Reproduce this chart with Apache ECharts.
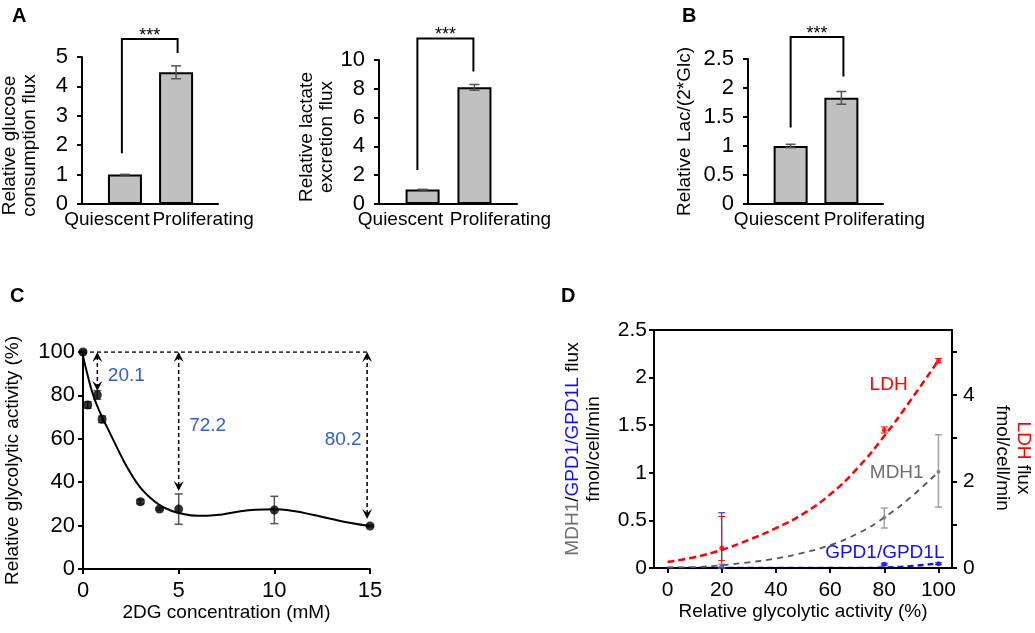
<!DOCTYPE html>
<html><head><meta charset="utf-8">
<script src="https://cdn.jsdelivr.net/npm/echarts@6/dist/echarts.min.js"></script>
<style>html,body{margin:0;padding:0;background:#fff}#c{width:1035px;height:633px}</style>
</head><body><div id="c"></div>
<script>
// ---------- Panel A / B : bar charts ----------
const barCategories = ['Quiescent', 'Proliferating'];
const glucoseFlux = [1.0, 4.48];
const glucoseErr = [0.01, 0.22];
const lactateFlux = [1.0, 8.1];
const lactateErr = [0.02, 0.2];
const lacGlcRatio = [1.0, 1.83];
const lacGlcErr = [0.03, 0.11];
const sigLabel = '***';
// significance brackets: [leftX, rightX, leftBottom, rightBottom, top]
const glucoseBracket = [-0.06, 1.03, 1.73, 5.14, 5.61];
const lactateBracket = [-0.1, 0.98, 2.36, 9.2, 11.5];
const ratioBracket = [0.0, 1.04, 1.32, 2.2, 2.88];

// ---------- Panel C : 2DG titration ----------
const dgConc = [0, 0.25, 0.75, 1, 3, 4, 5, 10, 15];
const dgActivity = [100, 75.6, 80.2, 69, 31, 27.6, 27.6, 27.2, 19.8];
const dgErr = [0.8, 1.5, 2, 1.5, 1, 0.6, 7, 6.3, 0.4];
const fitConc = [0, 0.25, 0.5, 0.75, 1, 1.5, 2, 2.5, 3, 3.5, 4, 4.5, 5, 6, 7, 8, 9, 10, 11, 12, 13, 14, 15];
const fitActivity = [98, 89, 81, 75, 70, 61, 52, 44, 37.5, 33, 29.5, 27.3, 25.8, 24.5, 24.9, 26.3, 27.3, 27.5, 26.7, 25, 23, 21.2, 19.8];
const dropConc = [0.75, 5, 14.85];
const dropTip = [82, 36, 23];
const dropLabels = ['20.1', '72.2', '80.2'];
const refLevel = 100;

// ---------- Panel D : fluxes vs glycolytic activity ----------
const activityPts = [20, 80, 100];
const ldhFlux = [0.46, 3.19, 4.79];
const ldhLow = [0.17, 3.12, 4.74];
const ldhHigh = [1.19, 3.26, 4.84];
const mdhFlux = [0.02, 0.53, 1.01];
const mdhLow = [0.0, 0.42, 0.64];
const mdhHigh = [0.04, 0.63, 1.40];
const gpdFlux = [0.01, 0.04, 0.045];
const gpdLow = [0.0, 0.03, 0.035];
const gpdHigh = [0.58, 0.05, 0.055];
const fitAct = [0, 10, 20, 30, 40, 50, 60, 70, 80, 90, 100];
const ldhFit = [0.14, 0.25, 0.42, 0.65, 0.92, 1.25, 1.7, 2.3, 3.05, 3.9, 4.8];
const mdhFit = [0.005, 0.01, 0.03, 0.06, 0.1, 0.16, 0.24, 0.36, 0.53, 0.75, 1.01];
const gpdFit = [0, 0, 0, 0, 0, 0, 0, 0, 0.005, 0.02, 0.05];
const xTicksD = [0, 20, 40, 60, 80, 100];
const rightTicksD = [0, 1, 2, 3, 4, 5];
const rightLabelsD = [0, 2, 4];
const curveLabels = [
  { text: 'LDH', x: 81.6, y: 4.23, axis: 'right', color: '#ff0000' },
  { text: 'MDH1', x: 84.6, y: 1.0, axis: 'left', color: '#6e6e6e' },
  { text: 'GPD1/GPD1L', x: 80.2, y: 0.16, axis: 'left', color: '#1010ff' }
];

// ---------- helpers ----------
const FF = '"Liberation Sans", Arial, sans-serif';
const BLUE_C = '#2f5fce';
const axisLineS = { show: true, onZero: false, lineStyle: { color: '#000', width: 2 } };
const tickS = { show: true, length: 5, lineStyle: { color: '#000', width: 2 } };
const lblS = (m, fs) => ({ color: '#000', fontSize: fs || 22, fontFamily: FF, margin: m });

function errRender(cap, color, width) {
  return function (params, api) {
    const x = api.value(0), lo = api.value(1), hi = api.value(2);
    const p1 = api.coord([x, lo]), p2 = api.coord([x, hi]);
    const h = cap / 2;
    const st = { stroke: color, lineWidth: width };
    return { type: 'group', children: [
      { type: 'line', shape: { x1: p1[0], y1: p1[1], x2: p2[0], y2: p2[1] }, style: st },
      { type: 'line', shape: { x1: p1[0] - h, y1: p1[1], x2: p1[0] + h, y2: p1[1] }, style: st },
      { type: 'line', shape: { x1: p2[0] - h, y1: p2[1], x2: p2[0] + h, y2: p2[1] }, style: st }
    ] };
  };
}
function bracketRender(params, api) {
  const a = api.coord([api.value(0), api.value(2)]);
  const b = api.coord([api.value(0), api.value(4)]);
  const c = api.coord([api.value(1), api.value(4)]);
  const d = api.coord([api.value(1), api.value(3)]);
  return { type: 'group', children: [
    { type: 'polyline', shape: { points: [a, b, c, d] }, style: { stroke: '#000', lineWidth: 2, fill: 'none' } },
    { type: 'text', x: (b[0] + c[0]) / 2, y: b[1] + 6,
      style: { text: sigLabel, align: 'center', verticalAlign: 'bottom', font: '18px ' + FF, fill: '#000' } }
  ] };
}
function catAxis(grid, shiftQ, shiftP, min, max) {
  return {
    type: 'value', gridIndex: grid, min: min, max: max,
    axisLine: axisLineS, axisTick: { show: false }, splitLine: { show: false },
    axisLabel: {
      customValues: [0, 1], margin: 6, fontFamily: FF, fontSize: 19, color: '#000',
      formatter: (v) => (Math.round(v) === 0 ? '{q|' + barCategories[0] + '}' : '{p|' + barCategories[1] + '}'),
      rich: {
        q: { fontSize: 19, fontFamily: FF, color: '#000', padding: [0, 2 * shiftQ, 0, 0] },
        p: { fontSize: 19, fontFamily: FF, color: '#000', padding: [0, 0, 0, 2 * shiftP] }
      }
    }
  };
}
function valAxis(grid, max, interval, name, gap, pad) {
  return {
    type: 'value', gridIndex: grid, min: 0, max: max, interval: interval,
    axisLine: axisLineS, axisTick: tickS, splitLine: { show: false },
    axisLabel: lblS(14),
    name: name, nameLocation: 'middle', nameGap: gap,
    nameTextStyle: { color: '#000', fontSize: 19, fontFamily: FF, lineHeight: 20, padding: pad || 0 }
  };
}
function barSeries(xi, vals) {
  return {
    type: 'bar', xAxisIndex: xi, yAxisIndex: xi, barWidth: 34,
    data: vals.map((v, i) => [i, v]),
    itemStyle: { color: '#c0c0c0', borderColor: '#000', borderWidth: 2 },
    silent: true, animation: false
  };
}
function barErr(xi, vals, errs) {
  return {
    type: 'custom', xAxisIndex: xi, yAxisIndex: xi, clip: false, z: 5,
    renderItem: errRender(10, '#555', 1.5),
    data: vals.map((v, i) => [i, v - errs[i], v + errs[i]])
  };
}
function bracket(xi, br) {
  return { type: 'custom', xAxisIndex: xi, yAxisIndex: xi, clip: false, renderItem: bracketRender, data: [br] };
}

const chart = echarts.init(document.getElementById('c'), null, { renderer: 'canvas' });
const BXMIN = -0.84, BXMAX = 1.82;

const option = {
  animation: false,
  backgroundColor: '#fff',
  textStyle: { fontFamily: FF },
  title: [
    { text: 'A', left: 7, top: 1, textStyle: { fontSize: 20, fontWeight: 'bold', color: '#000', fontFamily: FF } },
    { text: 'B', left: 677, top: 1, textStyle: { fontSize: 20, fontWeight: 'bold', color: '#000', fontFamily: FF } },
    { text: 'C', left: 5, top: 281, textStyle: { fontSize: 20, fontWeight: 'bold', color: '#000', fontFamily: FF } },
    { text: 'D', left: 556, top: 281, textStyle: { fontSize: 20, fontWeight: 'bold', color: '#000', fontFamily: FF } }
  ],
  grid: [
    { left: 82, top: 57, width: 136, height: 147, outerBoundsMode: 'none', containLabel: false },
    { left: 379, top: 60, width: 138, height: 144, outerBoundsMode: 'none', containLabel: false },
    { left: 748, top: 59, width: 135, height: 145, outerBoundsMode: 'none', containLabel: false },
    { left: 83, top: 352, width: 287, height: 217, outerBoundsMode: 'none', containLabel: false },
    { left: 654, top: 330, width: 298, height: 238, outerBoundsMode: 'none', containLabel: false }
  ],
  xAxis: [
    catAxis(0, 18, 27, BXMIN, BXMAX),
    catAxis(1, 22, 26, BXMIN, BXMAX),
    catAxis(2, 14, 33, BXMIN, BXMAX),
    {
      type: 'value', gridIndex: 3, min: 0, max: 15, interval: 5,
      axisLine: axisLineS, axisTick: tickS, splitLine: { show: false }, axisLabel: lblS(11),
      name: '2DG concentration (mM)', nameLocation: 'middle', nameGap: 33,
      nameTextStyle: { color: '#000', fontSize: 19, fontFamily: FF }
    },
    {
      type: 'value', gridIndex: 4, min: -5, max: 105,
      axisLine: axisLineS, axisTick: Object.assign({ customValues: xTicksD }, tickS),
      splitLine: { show: false }, axisLabel: Object.assign({ customValues: xTicksD }, lblS(12, 21)),
      name: 'Relative glycolytic activity (%)', nameLocation: 'middle', nameGap: 33,
      nameTextStyle: { color: '#000', fontSize: 19, fontFamily: FF }
    },
    {
      type: 'value', gridIndex: 4, position: 'top', min: -5, max: 105,
      axisLine: axisLineS, axisTick: { show: false }, axisLabel: { show: false }, splitLine: { show: false }
    }
  ],
  yAxis: [
    valAxis(0, 5, 1, 'Relative glucose\nconsumption flux', 42, [0, 30, 0, 0]),
    valAxis(1, 10, 2, 'Relative lactate\nexcretion flux', 38, [0, 10, 0, 0]),
    valAxis(2, 2.5, 0.5, 'Relative Lac/(2*Glc)', 53, 0),
    Object.assign(valAxis(3, 100, 20, 'Relative glycolytic activity (%)', 60, 0), { axisLabel: lblS(8) }),
    {
      type: 'value', gridIndex: 4, min: 0, max: 2.5, interval: 0.5,
      axisLine: axisLineS, axisTick: tickS, splitLine: { show: false }, axisLabel: lblS(7, 21),
      name: '{g|MDH1}{k|/}{b|GPD1/GPD1L}{k| flux}\n{k|fmol/cell/min}', nameLocation: 'middle', nameGap: 50,
      nameTextStyle: {
        fontSize: 19, fontFamily: FF, lineHeight: 21, padding: [0, 0, 0, 0],
        rich: {
          g: { color: '#6e6e6e', fontSize: 19, fontFamily: FF, lineHeight: 21 },
          k: { color: '#000', fontSize: 19, fontFamily: FF, lineHeight: 21 },
          b: { color: '#1010ff', fontSize: 19, fontFamily: FF, lineHeight: 21 }
        }
      }
    },
    {
      type: 'value', gridIndex: 4, position: 'right', min: 0, max: 5.5,
      axisLine: axisLineS, axisTick: Object.assign({ customValues: rightTicksD }, tickS),
      splitLine: { show: false }, axisLabel: Object.assign({ customValues: rightLabelsD }, lblS(11, 21)),
      name: '{r|LDH}{k| flux}\n{k|fmol/cell/min}', nameLocation: 'middle', nameGap: 40, nameRotate: -90,
      nameTextStyle: {
        fontSize: 19, fontFamily: FF, lineHeight: 21, padding: [0, 0, 0, 18],
        rich: {
          r: { color: '#ff0000', fontSize: 19, fontFamily: FF, lineHeight: 21 },
          k: { color: '#000', fontSize: 19, fontFamily: FF, lineHeight: 21 }
        }
      }
    }
  ],
  series: [
    // A1
    barSeries(0, glucoseFlux), barErr(0, glucoseFlux, glucoseErr), bracket(0, glucoseBracket),
    // A2
    barSeries(1, lactateFlux), barErr(1, lactateFlux, lactateErr), bracket(1, lactateBracket),
    // B
    barSeries(2, lacGlcRatio), barErr(2, lacGlcRatio, lacGlcErr), bracket(2, ratioBracket),
    // C reference line
    {
      type: 'line', xAxisIndex: 3, yAxisIndex: 3, symbol: 'none', silent: true,
      data: [[0, refLevel], [15, refLevel]],
      lineStyle: { color: '#000', width: 1.5, type: [4, 3] }
    },
    // C fit
    {
      type: 'line', xAxisIndex: 3, yAxisIndex: 3, symbol: 'none', smooth: 0.5, silent: true,
      data: fitConc.map((x, i) => [x, fitActivity[i]]),
      lineStyle: { color: '#000', width: 2 }
    },
    // C error bars
    {
      type: 'custom', xAxisIndex: 3, yAxisIndex: 3, clip: false, z: 3,
      renderItem: errRender(8, '#555', 1.5),
      data: dgConc.map((x, i) => [x, dgActivity[i] - dgErr[i], dgActivity[i] + dgErr[i]])
    },
    // C points
    {
      type: 'scatter', xAxisIndex: 3, yAxisIndex: 3, symbol: 'circle', symbolSize: 9, z: 4,
      itemStyle: { color: '#000' }, data: dgConc.map((x, i) => [x, dgActivity[i]])
    },
    // C drop arrows
    {
      type: 'custom', xAxisIndex: 3, yAxisIndex: 3, clip: false, z: 5,
      data: dropConc.map((x, i) => [x, dropTip[i]]),
      renderItem: function (params, api) {
        const x = api.value(0), tip = api.value(1);
        const t = api.coord([x, refLevel]), b = api.coord([x, tip]);
        const ah = 10, aw = 5;
        const idx = params.dataIndex;
        const left = idx === dropConc.length - 1;
        return { type: 'group', children: [
          { type: 'line', shape: { x1: t[0], y1: t[1] + 4, x2: b[0], y2: b[1] - 4 },
            style: { stroke: '#000', lineWidth: 1.5, lineDash: [4, 3] } },
          { type: 'polygon', shape: { points: [[t[0], t[1]], [t[0] - aw, t[1] + ah], [t[0], t[1] + ah - 4], [t[0] + aw, t[1] + ah]] },
            style: { fill: '#000' } },
          { type: 'polygon', shape: { points: [[b[0], b[1]], [b[0] - aw, b[1] - ah], [b[0], b[1] - ah + 4], [b[0] + aw, b[1] - ah]] },
            style: { fill: '#000' } },
          { type: 'text', x: b[0] + (left ? -24 : 29), y: (t[1] + b[1]) / 2 + 4,
            style: { text: dropLabels[idx], align: 'center', verticalAlign: 'middle', font: '19px ' + FF, fill: BLUE_C } }
        ] };
      }
    },
    // D fits
    {
      type: 'line', xAxisIndex: 4, yAxisIndex: 4, symbol: 'none', smooth: true, silent: true, z: -1,
      data: fitAct.map((x, i) => [x, gpdFit[i]]),
      lineStyle: { color: '#1010ff', width: 2.5, type: [6, 4] }
    },
    {
      type: 'line', xAxisIndex: 4, yAxisIndex: 4, symbol: 'none', smooth: true, silent: true,
      data: fitAct.map((x, i) => [x, mdhFit[i]]),
      lineStyle: { color: '#555', width: 1.8, type: [6, 5] }
    },
    {
      type: 'line', xAxisIndex: 4, yAxisIndex: 5, symbol: 'none', smooth: true, silent: true,
      data: fitAct.map((x, i) => [x, ldhFit[i]]),
      lineStyle: { color: '#ff0000', width: 2.5, type: [7, 4] }
    },
    // D error bars
    {
      type: 'custom', xAxisIndex: 4, yAxisIndex: 4, clip: false, z: 3,
      renderItem: errRender(7, '#1010ff', 1),
      data: activityPts.map((x, i) => [x, gpdLow[i], gpdHigh[i]])
    },
    {
      type: 'custom', xAxisIndex: 4, yAxisIndex: 4, clip: false, z: 3,
      renderItem: errRender(7, '#a0a0a0', 1.5),
      data: activityPts.map((x, i) => [x, mdhLow[i], mdhHigh[i]])
    },
    {
      type: 'custom', xAxisIndex: 4, yAxisIndex: 5, clip: false, z: 3,
      renderItem: errRender(7, '#ff0000', 1),
      data: activityPts.map((x, i) => [x, ldhLow[i], ldhHigh[i]])
    },
    // D points
    {
      type: 'scatter', xAxisIndex: 4, yAxisIndex: 4, symbolSize: 5, z: 4,
      itemStyle: { color: '#1010ff' }, data: activityPts.map((x, i) => [x, gpdFlux[i]])
    },
    {
      type: 'scatter', xAxisIndex: 4, yAxisIndex: 4, symbolSize: 4, z: 4,
      itemStyle: { color: '#777' }, data: activityPts.map((x, i) => [x, mdhFlux[i]])
    },
    {
      type: 'scatter', xAxisIndex: 4, yAxisIndex: 5, symbolSize: 5, z: 4,
      itemStyle: { color: '#ff0000' }, data: activityPts.map((x, i) => [x, ldhFlux[i]])
    },
    // D curve labels
    {
      type: 'custom', xAxisIndex: 4, yAxisIndex: 4, clip: false, z: 6,
      data: curveLabels.map((l) => [l.x, l.y]),
      renderItem: function (params, api) {
        const l = curveLabels[params.dataIndex];
        let p;
        if (l.axis === 'right') {
          const px = api.coord([l.x, 0]);
          const top = api.coord([l.x, 2.5]);
          p = [px[0], px[1] + (top[1] - px[1]) * (l.y / 5.5)];
        } else {
          p = api.coord([l.x, l.y]);
        }
        return { type: 'text', x: p[0], y: p[1],
          style: { text: l.text, align: 'center', verticalAlign: 'middle', font: '19px ' + FF, fill: l.color } };
      }
    }
  ]
};
chart.setOption(option);
</script>
</body></html>
